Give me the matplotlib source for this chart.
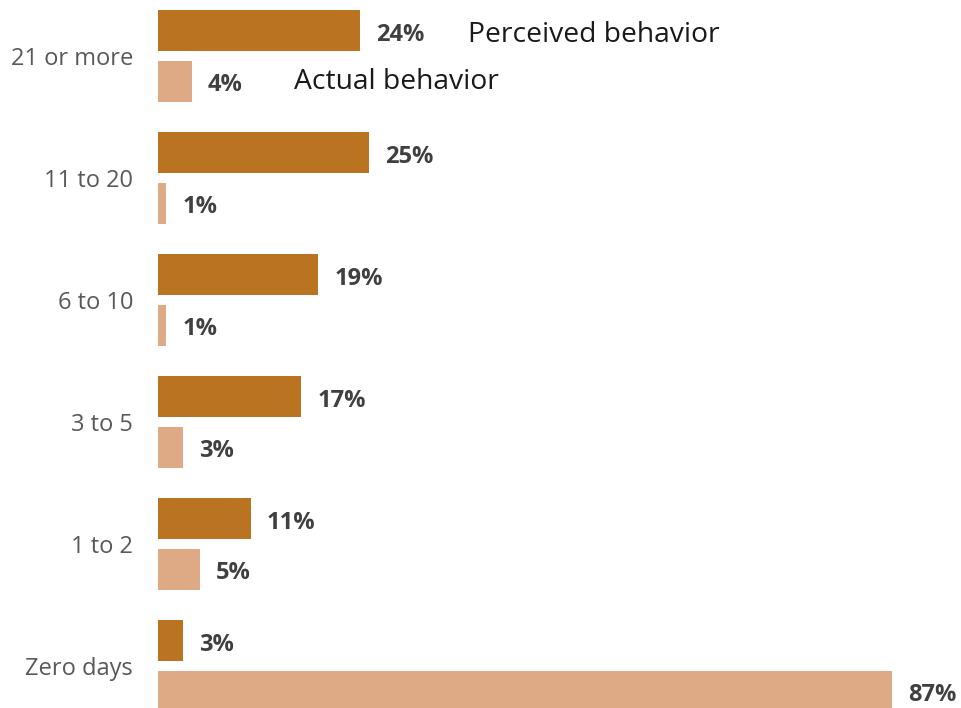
import numpy as np
import matplotlib
matplotlib.use('Agg')
import matplotlib.pyplot as plt

plt.rcParams['font.family'] = ['Open Sans', 'DejaVu Sans']

# data
categories = ['21 or more', '11 to 20', '6 to 10', '3 to 5', '1 to 2', 'Zero days']
perceived = [24, 25, 19, 17, 11, 3]
actual = [4, 1, 1, 3, 5, 87]

c_perceived = '#BA7320'
c_actual = '#DDAA85'

fig = plt.figure(figsize=(9.61, 7.08), dpi=100)
ax = fig.add_axes([158 / 961, 0, 801.5 / 961, 1])

y = np.arange(len(categories))
off = 0.207
h = 0.336

ax.barh(y - off, perceived, height=h, color=c_perceived)
ax.barh(y + off, actual, height=h, color=c_actual)

for yi, v in zip(y, perceived):
    ax.text(v + 1.9, yi - off + 0.035, f'{v}%', va='center', ha='left',
            fontsize=17, fontweight='bold', color='#404040')
for yi, v in zip(y, actual):
    ax.text(v + 1.9, yi + off + 0.03, f'{v}%', va='center', ha='left',
            fontsize=17, fontweight='bold', color='#404040')

# series labels next to the first group
ax.text(36.7, -off + 0.035, 'Perceived behavior', va='center', ha='left',
        fontsize=20.3, color='#1a1a1a')
ax.text(16.1, off + 0.01, 'Actual behavior', va='center', ha='left',
        fontsize=20.3, color='#1a1a1a')

ax.set_yticks(y)
ax.set_yticklabels(categories, fontsize=17, color='#595959')
ax.tick_params(axis='y', length=0, pad=18)
ax.set_xticks([])
ax.set_xlim(0, 95)
ax.set_ylim(5.346, -0.457)
for s in ax.spines.values():
    s.set_visible(False)

fig.savefig('out.png', dpi=100)
